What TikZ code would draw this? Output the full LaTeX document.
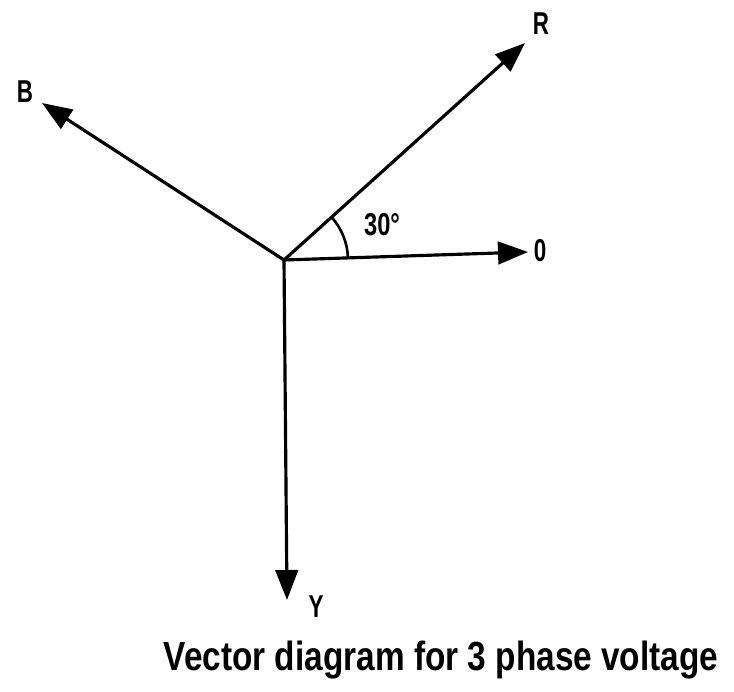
\documentclass[tikz,border=0pt]{standalone}
\usepackage{fontspec}
\setmainfont{Liberation Sans}
\usepackage{tikz}
\usetikzlibrary{arrows.meta,positioning,calc}

\begin{document}
\begin{tikzpicture}[
  x=0.02cm, y=-0.02cm,
  >={Triangle[length=6mm, width=4.5mm]},
  phasor/.style={draw=black, line width=1.8pt, ->},
  lbl/.style={font=\bfseries\fontsize{15}{17}\selectfont, inner sep=1pt},
  captxt/.style={font=\bfseries\fontsize{19}{22}\selectfont, inner sep=0pt},
]
\useasboundingbox (0,0) rectangle (734,692);

% ---- origin and phasor tips ----
\coordinate (O) at (284,260);
\coordinate (tR) at (525,43);
\coordinate (tB) at (42,103);
\coordinate (tN) at (528,252);
\coordinate (tY) at (287,600);

% ---- labels ----
\node[lbl] (lR) at (541,24) {\scalebox{0.85}[1.2]{R}};
\node[lbl] (lB) at (25,92) {\scalebox{0.85}[1.2]{B}};
\node[lbl] (lN) at (540,251) {\scalebox{0.85}[1.2]{0}};
\node[lbl] (lY) at (316,607) {\scalebox{0.85}[1.2]{Y}};
\node[lbl] (lang) at (382,225) {\scalebox{0.9}[1.2]{30\textdegree}};

% ---- phasors ----
\draw[phasor] (O) -- (tR);
\draw[phasor] (O) -- (tB);
\draw[phasor] (O) -- (tN);
\draw[phasor] (O) -- (tY);

% ---- angle arc ----
\draw[line width=1.5pt] ([shift={(-2:64)}]O) arc[start angle=-2, end angle=-42, radius=64];

% ---- caption ----
\node[captxt] (title) at (441,660) {\scalebox{1}[1.22]{Vector diagram for 3 phase voltage}};

\end{tikzpicture}
\end{document}
